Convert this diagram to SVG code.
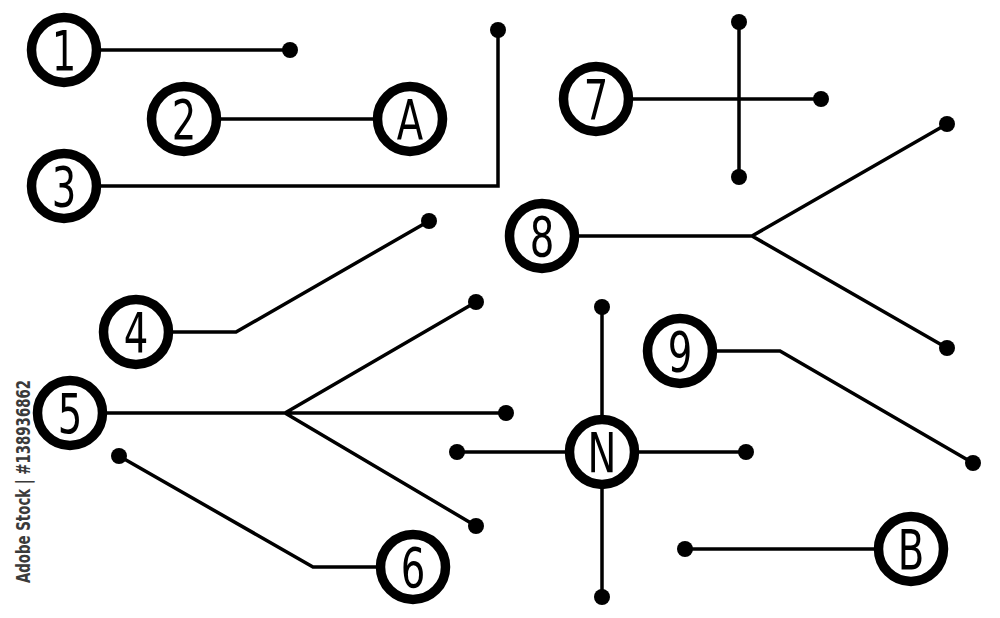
<svg xmlns="http://www.w3.org/2000/svg" width="1000" height="618" viewBox="0 0 1000 618">
<style>
.bg{fill:#fff}
.ln{fill:none;stroke:#000;stroke-width:3.5;stroke-linejoin:miter}
.dot{fill:#000}
.ring{fill:#fff;stroke:#000;stroke-width:9.5}
.lbl{font-family:"DejaVu Sans Condensed","DejaVu Sans",sans-serif;font-stretch:condensed;font-size:55px;fill:#000;text-anchor:middle}
.wm{font-family:"DejaVu Sans Condensed","DejaVu Sans",sans-serif;font-stretch:condensed;font-size:19px;font-weight:bold;fill:#3a3a3a}
</style>
<defs>
<circle id="d" r="8" class="dot"/>
</defs>
<rect class="bg" width="1000" height="618"/>
<g id="connectors">
<path class="ln" d="M64 50H290"/>
<path class="ln" d="M184 119H410"/>
<path class="ln" d="M64 186H498V30"/>
<path class="ln" d="M596 99H821M739 22V177"/>
<path class="ln" d="M542 236H752L947 124M752 236L947 348"/>
<path class="ln" d="M136 332H236L429 221"/>
<path class="ln" d="M70 413H285L476 302M285 413H506M285 413L476 526"/>
<path class="ln" d="M119 456L313 567H413"/>
<path class="ln" d="M602 307V597M457 452H746"/>
<path class="ln" d="M680 351H780L973 463"/>
<path class="ln" d="M685 549H911"/>
</g>
<g id="dots">
<use href="#d" x="290" y="50"/>
<use href="#d" x="498" y="30"/>
<use href="#d" x="821" y="99"/>
<use href="#d" x="739" y="22"/>
<use href="#d" x="739" y="177"/>
<use href="#d" x="947" y="124"/>
<use href="#d" x="947" y="348"/>
<use href="#d" x="429" y="221"/>
<use href="#d" x="476" y="302"/>
<use href="#d" x="506" y="413"/>
<use href="#d" x="476" y="526"/>
<use href="#d" x="119" y="456"/>
<use href="#d" x="602" y="307"/>
<use href="#d" x="602" y="597"/>
<use href="#d" x="457" y="452"/>
<use href="#d" x="746" y="452"/>
<use href="#d" x="973" y="463"/>
<use href="#d" x="685" y="549"/>
</g>
<g id="n1"><circle class="ring" cx="64" cy="50" r="32.5"/><text class="lbl" transform="translate(64 70) scale(0.78 1)">1</text></g>
<g id="n2"><circle class="ring" cx="184" cy="119" r="32.5"/><text class="lbl" transform="translate(184 139) scale(0.78 1)">2</text></g>
<g id="nA"><circle class="ring" cx="410" cy="119" r="32.5"/><text class="lbl" transform="translate(410 139) scale(0.78 1)">A</text></g>
<g id="n3"><circle class="ring" cx="64" cy="186" r="32.5"/><text class="lbl" transform="translate(64 206) scale(0.78 1)">3</text></g>
<g id="n7"><circle class="ring" cx="596" cy="99" r="32.5"/><text class="lbl" transform="translate(596 119) scale(0.78 1)">7</text></g>
<g id="n8"><circle class="ring" cx="542" cy="236" r="32.5"/><text class="lbl" transform="translate(542 256) scale(0.78 1)">8</text></g>
<g id="n4"><circle class="ring" cx="136" cy="332" r="32.5"/><text class="lbl" transform="translate(136 352) scale(0.78 1)">4</text></g>
<g id="n5"><circle class="ring" cx="70" cy="413" r="32.5"/><text class="lbl" transform="translate(70 433) scale(0.78 1)">5</text></g>
<g id="n6"><circle class="ring" cx="413" cy="567" r="32.5"/><text class="lbl" transform="translate(413 587) scale(0.78 1)">6</text></g>
<g id="nN"><circle class="ring" cx="602" cy="452" r="32.5"/><text class="lbl" transform="translate(602 472) scale(0.78 1)">N</text></g>
<g id="n9"><circle class="ring" cx="680" cy="351" r="32.5"/><text class="lbl" transform="translate(680 371) scale(0.78 1)">9</text></g>
<g id="nB"><circle class="ring" cx="911" cy="549" r="32.5"/><text class="lbl" transform="translate(911 569) scale(0.78 1)">B</text></g>
<text class="wm" transform="translate(30 583) rotate(-90)" textLength="203" lengthAdjust="spacingAndGlyphs">Adobe Stock | #138936862</text>
</svg>
